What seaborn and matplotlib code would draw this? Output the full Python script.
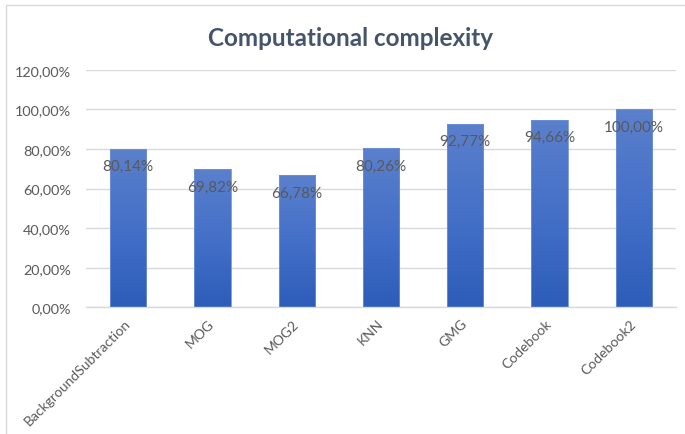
import numpy as np
import pandas as pd
import matplotlib
matplotlib.use("Agg")
import matplotlib.pyplot as plt
from matplotlib.colors import LinearSegmentedColormap
from matplotlib.patches import Rectangle
import seaborn as sns

# Relative computational cost of each background-subtraction method (%)
methods = ["BackgroundSubtraction", "MOG", "MOG2", "KNN", "GMG", "Codebook", "Codebook2"]
complexity = [80.14, 69.82, 66.78, 80.26, 92.77, 94.66, 100.00]
y_ticks = [0, 20, 40, 60, 80, 100, 120]

df = pd.DataFrame({"method": methods, "complexity": complexity})

sns.set_theme(style="white")
plt.rcParams["font.family"] = ["Lato", "DejaVu Sans"]

fig = plt.figure(figsize=(6.85, 4.35), dpi=100)
ax = fig.add_axes([86 / 685, 1 - 308.3 / 435, (676 - 86) / 685, (308.3 - 70.7) / 435])

sns.barplot(data=df, x="method", y="complexity", ax=ax, width=0.43,
            color="#4472C4", saturation=1, linewidth=0)

# vertical blue gradient inside each bar
grad_cmap = LinearSegmentedColormap.from_list("bar", ["#2D5DB9", "#4470C8", "#5B80CC"])
gradient = np.linspace(0, 1, 256).reshape(-1, 1)
for patch in ax.patches:
    x0, y0 = patch.get_x(), patch.get_y()
    w, h = patch.get_width(), patch.get_height()
    patch.set_facecolor("none")
    im = ax.imshow(gradient, cmap=grad_cmap, aspect="auto", origin="lower",
                   extent=[x0, x0 + w, y0, y0 + h], zorder=2, interpolation="bicubic")
    im.set_clip_path(patch)
    ax.add_patch(Rectangle((x0, y0), w, h, fill=False, edgecolor="#7090D6",
                           linewidth=0.6, zorder=3))

ax.set_xlim(-0.5, len(methods) - 0.5)
ax.set_ylim(0, 120)

# value labels just inside the top of each bar
for i, v in enumerate(complexity):
    ax.annotate(f"{v:.2f}%".replace(".", ","), xy=(i, v), xytext=(0, -12.5),
                textcoords="offset points", ha="center", va="center",
                fontsize=11, color="#595959", zorder=4)

ax.set_yticks(y_ticks)
ax.set_yticklabels([f"{t:.2f}%".replace(".", ",") for t in y_ticks],
                   fontsize=10.4, color="#595959")
ax.tick_params(axis="y", length=0, pad=11)
ax.yaxis.grid(True, color="#D9D9D9", linewidth=1)
ax.set_axisbelow(True)

ax.set_xticks(range(len(methods)))
ax.set_xticklabels(methods, rotation=45, ha="right", va="center",
                   rotation_mode="anchor", fontsize=10, color="#595959")
ax.tick_params(axis="x", length=0, pad=10)

for side in ["top", "right", "left"]:
    ax.spines[side].set_visible(False)
ax.spines["bottom"].set_color("#D9D9D9")
ax.spines["bottom"].set_linewidth(1)

ax.set_xlabel("")
ax.set_ylabel("")

fig.text(351 / 685, 1 - 38 / 435, "Computational complexity", ha="center", va="center",
         fontsize=17.5, fontweight="bold", color="#44546A")

# chart frame
fig.add_artist(Rectangle((6 / 685, -0.05), 1.2, 1 - 6 / 435 + 0.05,
                         transform=fig.transFigure, fill=False,
                         edgecolor="#D9D9D9", linewidth=1))

fig.savefig("out.png", dpi=100, facecolor="white")
